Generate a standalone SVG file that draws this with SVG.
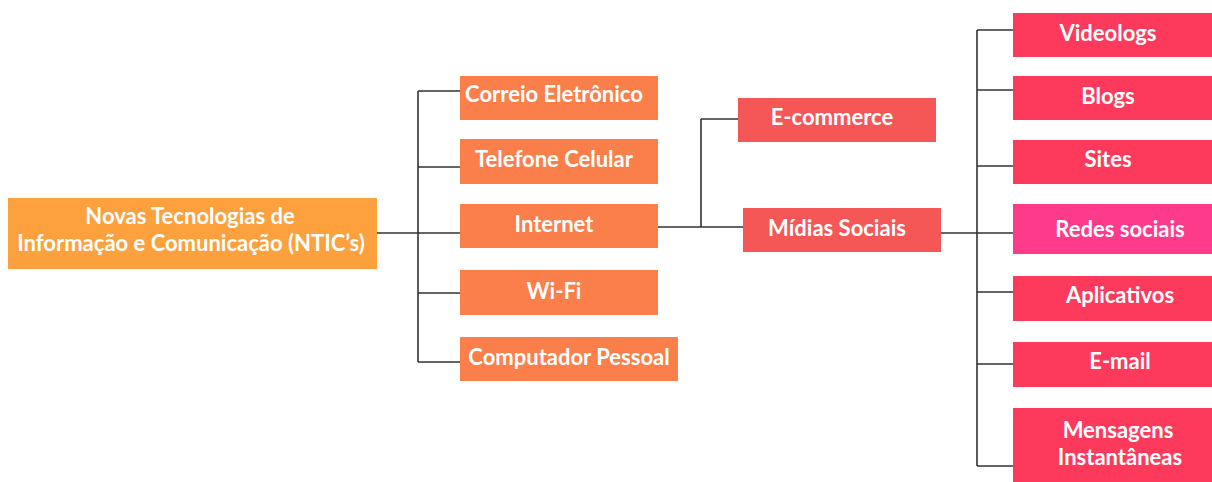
<svg xmlns="http://www.w3.org/2000/svg" width="1212" height="482" viewBox="0 0 1212 482">
<style>
.t{font-family:Lato,"Open Sans","Liberation Sans",sans-serif;font-weight:bold;font-size:22px;fill:#fff;text-anchor:middle}
.c{fill:none;stroke:#333;stroke-width:1.6}
.r0{fill:#FCA13E}.r1{fill:#FA7F4B}.r2{fill:#F55757}.r3{fill:#FE3A5C}.r4{fill:#FE3A8B}
</style>
<rect width="1212" height="482" fill="#fff"/>
<g id="connectors">
<path class="c" d="M377 233H418M418 91V362M418 91H460M418 167H460M418 233H460M418 293H460M418 362H460"/>
<path class="c" d="M658 227H743M701 119V227M701 119H738"/>
<path class="c" d="M941 233H1013M977 30V466M977 30H1013M977 90H1013M977 166H1013M977 292H1013M977 364H1013M977 466H1013"/>
</g>
<g id="n-ntic"><rect class="r0" x="8" y="198" width="369" height="71"/><text class="t" x="190" y="224">Novas Tecnologias de</text><text class="t" x="191" y="251">Informação e Comunicação (NTIC’s)</text></g>
<g id="n-correio"><rect class="r1" x="460" y="76" width="198" height="44"/><text class="t" x="554" y="102">Correio Eletrônico</text></g>
<g id="n-telefone"><rect class="r1" x="460" y="139" width="198" height="45"/><text class="t" x="554" y="167">Telefone Celular</text></g>
<g id="n-internet"><rect class="r1" x="460" y="204" width="198" height="44"/><text class="t" x="554" y="232">Internet</text></g>
<g id="n-wifi"><rect class="r1" x="460" y="270" width="198" height="45"/><text class="t" x="554" y="299">Wi-Fi</text></g>
<g id="n-computador"><rect class="r1" x="460" y="337" width="218" height="44"/><text class="t" x="569" y="365">Computador Pessoal</text></g>
<g id="n-ecommerce"><rect class="r2" x="738" y="98" width="198" height="44"/><text class="t" x="832" y="125">E-commerce</text></g>
<g id="n-midias"><rect class="r2" x="743" y="208" width="198" height="44"/><text class="t" x="837" y="236">Mídias Sociais</text></g>
<g id="n-videologs"><rect class="r3" x="1013" y="13" width="199" height="44"/><text class="t" x="1108" y="41">Videologs</text></g>
<g id="n-blogs"><rect class="r3" x="1013" y="76" width="199" height="44"/><text class="t" x="1108" y="104">Blogs</text></g>
<g id="n-sites"><rect class="r3" x="1013" y="140" width="199" height="44"/><text class="t" x="1108" y="167">Sites</text></g>
<g id="n-redes"><rect class="r4" x="1013" y="204" width="199" height="50"/><text class="t" x="1120" y="237">Redes sociais</text></g>
<g id="n-aplicativos"><rect class="r3" x="1013" y="276" width="199" height="45"/><text class="t" x="1120" y="303">Aplicativos</text></g>
<g id="n-email"><rect class="r3" x="1013" y="342" width="199" height="45"/><text class="t" x="1120" y="369">E-mail</text></g>
<g id="n-mensagens"><rect class="r3" x="1013" y="408" width="199" height="74"/><text class="t" x="1118" y="438">Mensagens</text><text class="t" x="1120" y="465">Instantâneas</text></g>
</svg>
